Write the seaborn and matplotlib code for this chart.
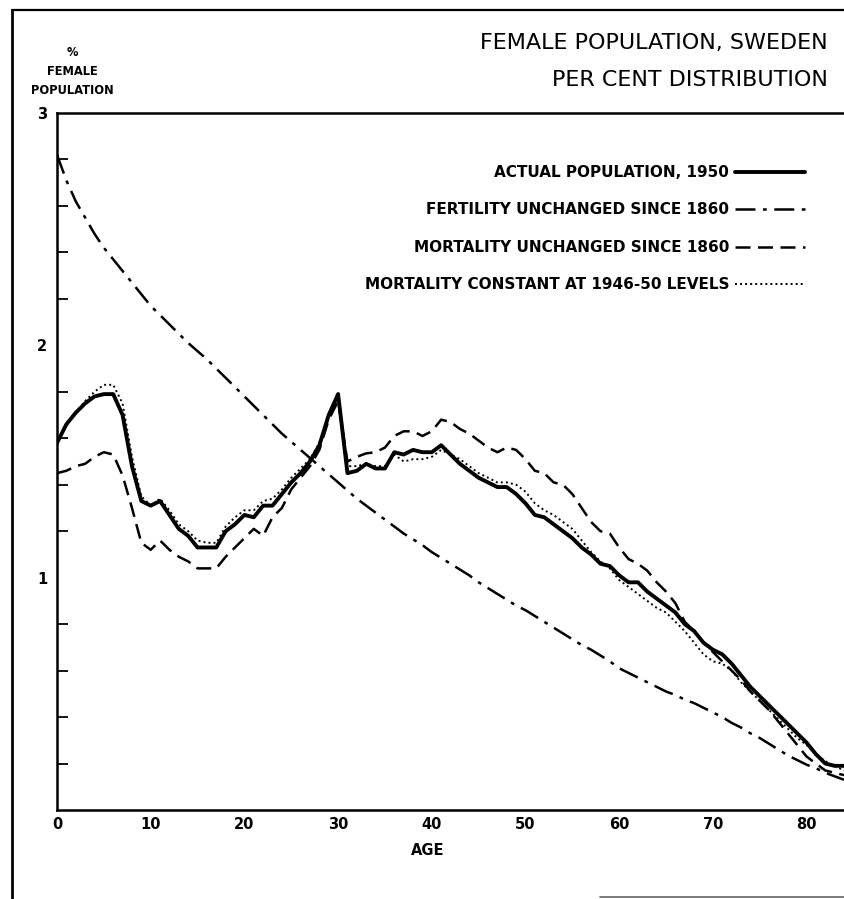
import pandas as pd
import matplotlib
matplotlib.use("Agg")
import matplotlib.pyplot as plt
from matplotlib.lines import Line2D
import seaborn as sns
import numpy as np

# single years of age, 0 - 84
ages = list(range(0, 85))

# actual population, 1950
actual_1950 = [1.58, 1.66, 1.71, 1.75, 1.78, 1.79, 1.79, 1.70, 1.48, 1.33,
               1.31, 1.33, 1.27, 1.21, 1.18, 1.13, 1.13, 1.13, 1.20, 1.23,
               1.27, 1.26, 1.31, 1.31, 1.36, 1.41, 1.45, 1.50, 1.57, 1.70,
               1.79, 1.45, 1.46, 1.49, 1.47, 1.47, 1.54, 1.53, 1.55, 1.54,
               1.54, 1.57, 1.53, 1.49, 1.46, 1.43, 1.41, 1.39, 1.39, 1.36,
               1.32, 1.27, 1.26, 1.23, 1.20, 1.17, 1.13, 1.10, 1.06, 1.05,
               1.01, 0.98, 0.98, 0.94, 0.91, 0.88, 0.85, 0.80, 0.77, 0.72,
               0.69, 0.67, 0.63, 0.58, 0.53, 0.49, 0.45, 0.41, 0.37, 0.33,
               0.29, 0.24, 0.20, 0.19, 0.19]

# fertility unchanged since 1860
fertility_1860 = [2.82, 2.71, 2.62, 2.55, 2.48, 2.42, 2.37, 2.32, 2.27, 2.22,
                  2.17, 2.13, 2.09, 2.05, 2.01, 1.975, 1.94, 1.90, 1.86, 1.82,
                  1.78, 1.74, 1.70, 1.66, 1.62, 1.585, 1.55, 1.515, 1.48, 1.445,
                  1.41, 1.375, 1.34, 1.31, 1.28, 1.25, 1.22, 1.19, 1.165, 1.14,
                  1.11, 1.085, 1.06, 1.035, 1.01, 0.98, 0.955, 0.93, 0.905, 0.88,
                  0.86, 0.835, 0.81, 0.785, 0.76, 0.735, 0.71, 0.69, 0.665, 0.64,
                  0.61, 0.59, 0.57, 0.55, 0.53, 0.51, 0.495, 0.475, 0.46, 0.44,
                  0.42, 0.40, 0.375, 0.355, 0.33, 0.31, 0.285, 0.26, 0.235, 0.215,
                  0.195, 0.18, 0.16, 0.145, 0.13]

# mortality unchanged since 1860
mortality_1860 = [1.45, 1.46, 1.48, 1.49, 1.52, 1.54, 1.53, 1.44, 1.30, 1.15,
                  1.12, 1.16, 1.12, 1.09, 1.07, 1.04, 1.04, 1.04, 1.09, 1.13,
                  1.17, 1.21, 1.18, 1.26, 1.30, 1.38, 1.43, 1.48, 1.55, 1.68,
                  1.76, 1.50, 1.52, 1.535, 1.54, 1.56, 1.61, 1.63, 1.63, 1.61,
                  1.63, 1.68, 1.67, 1.64, 1.62, 1.59, 1.56, 1.54, 1.56, 1.55,
                  1.51, 1.46, 1.45, 1.41, 1.40, 1.36, 1.30, 1.24, 1.20, 1.19,
                  1.13, 1.08, 1.06, 1.03, 0.98, 0.94, 0.89, 0.81, 0.77, 0.72,
                  0.68, 0.64, 0.60, 0.56, 0.51, 0.47, 0.43, 0.38, 0.33, 0.28,
                  0.23, 0.20, 0.17, 0.16, 0.15]

# mortality constant at 1946-50 levels
mortality_1946_50 = [1.58, 1.66, 1.71, 1.76, 1.80, 1.83, 1.83, 1.75, 1.52, 1.35,
                     1.31, 1.34, 1.29, 1.23, 1.20, 1.16, 1.15, 1.15, 1.22, 1.26,
                     1.29, 1.29, 1.33, 1.34, 1.38, 1.43, 1.47, 1.51, 1.58, 1.70,
                     1.80, 1.48, 1.48, 1.49, 1.48, 1.48, 1.53, 1.50, 1.51, 1.51,
                     1.52, 1.55, 1.53, 1.51, 1.48, 1.45, 1.43, 1.41, 1.41, 1.40,
                     1.37, 1.32, 1.29, 1.27, 1.24, 1.21, 1.16, 1.11, 1.07, 1.04,
                     0.99, 0.96, 0.93, 0.90, 0.87, 0.85, 0.81, 0.77, 0.72, 0.67,
                     0.64, 0.63, 0.60, 0.55, 0.51, 0.47, 0.43, 0.39, 0.35, 0.31,
                     0.28, 0.24, 0.21, 0.19, 0.17]

labels = ["ACTUAL POPULATION, 1950",
          "FERTILITY UNCHANGED SINCE 1860",
          "MORTALITY UNCHANGED SINCE 1860",
          "MORTALITY CONSTANT AT 1946-50 LEVELS"]

sns.set_style("white")
plt.rcParams['font.family'] = ['DejaVu Sans']
plt.rcParams['text.color'] = 'black'
plt.rcParams['axes.labelcolor'] = 'black'
plt.rcParams['xtick.color'] = 'black'
plt.rcParams['ytick.color'] = 'black'

fig = plt.figure(figsize=(8.45, 8.99), dpi=100)
ax = fig.add_axes([57 / 845, 89 / 899, 788 / 845, 697 / 899])

# curves
sns.lineplot(x=ages, y=actual_1950, ax=ax, color="black", lw=2.8,
             label=labels[0])
sns.lineplot(x=ages, y=fertility_1860, ax=ax, color="black", lw=1.8,
             label=labels[1])
ax.lines[-1].set_dashes([8, 3, 1.5, 3])
sns.lineplot(x=ages, y=mortality_1860, ax=ax, color="black", lw=1.8,
             label=labels[2])
ax.lines[-1].set_dashes([6, 3])
sns.lineplot(x=ages, y=mortality_1946_50, ax=ax, color="black", lw=1.4,
             label=labels[3])
ax.lines[-1].set_dashes([1, 1.6])

ax.set_xlim(0, 84.1)
ax.set_ylim(0, 3)

# spines like the old drafted chart
for side in ["left", "bottom", "top"]:
    ax.spines[side].set_color("black")
    ax.spines[side].set_linewidth(1.8)
ax.spines["right"].set_visible(False)

ax.set_xticks(range(0, 90, 10))
ax.set_xticklabels([str(v) for v in range(0, 90, 10)])
ax.set_yticks([0, 1, 2, 3])
ax.set_yticklabels(["", "1", "2", "3"])
ax.set_yticks(np.arange(0, 3.01, 0.2), minor=True)
ax.tick_params(axis="x", direction="in", length=8, width=1.5, pad=5,
               labelsize=10.5, top=False)
ax.tick_params(axis="y", which="major", direction="in", length=15, width=1.5,
               pad=7, labelsize=10.5)
ax.tick_params(axis="y", which="minor", direction="in", length=8, width=1.3,
               left=True)
for t in ax.get_xticklabels() + ax.get_yticklabels():
    t.set_fontweight("bold")

ax.set_xlabel("AGE", fontsize=10.5, fontweight="bold")
ax.xaxis.set_label_coords((428 - 57) / 788, -0.047)
ax.set_ylabel("")

fig.text(72 / 845, 1 - 46 / 899, "%\nFEMALE\nPOPULATION", ha="center",
         va="top", fontsize=8.3, fontweight="bold", linespacing=1.6)

fig.text(828 / 845, 1 - 43 / 899, "FEMALE POPULATION, SWEDEN", ha="right",
         va="center", fontsize=16)
fig.text(828 / 845, 1 - 80 / 899, "PER CENT DISTRIBUTION", ha="right",
         va="center", fontsize=16)

leg = ax.legend(loc="upper right", bbox_to_anchor=((805 - 57) / 788,
                (810 - 165) / 697), markerfirst=False, frameon=False,
                handlelength=4.6, handletextpad=0.35, labelspacing=1.47,
                borderpad=0, borderaxespad=0, prop={"size": 11, "weight": "bold"})

# page border of the original scan
fig.add_artist(Line2D([12 / 845, 12 / 845], [0, 1 - 10 / 899],
                      transform=fig.transFigure, color="black", lw=2))
fig.add_artist(Line2D([12 / 845, 1], [1 - 10 / 899, 1 - 10 / 899],
                      transform=fig.transFigure, color="black", lw=1.6))
fig.add_artist(Line2D([600 / 845, 1], [2 / 899, 2 / 899],
                      transform=fig.transFigure, color="0.4", lw=1.2))

fig.savefig("out.png", dpi=100, facecolor="white")
